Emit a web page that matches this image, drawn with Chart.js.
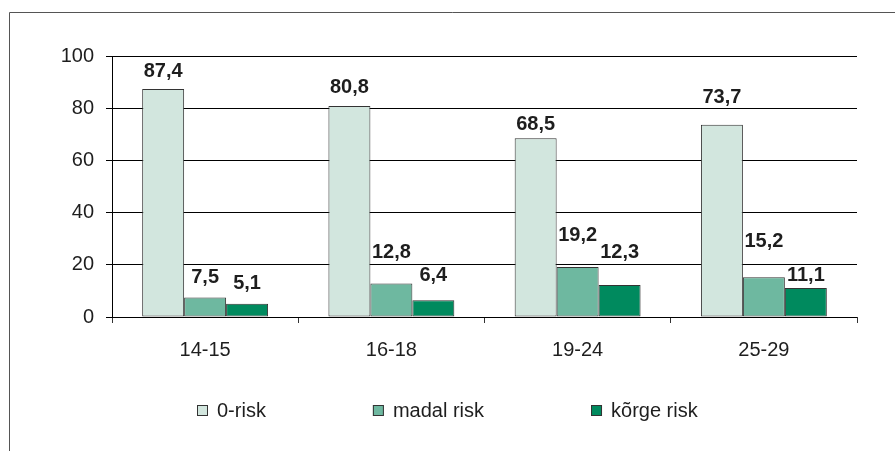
<!DOCTYPE html>
<html>
<head>
<meta charset="utf-8">
<script src="https://cdn.jsdelivr.net/npm/chart.js@4"></script>
<style>
  html, body { margin: 0; padding: 0; background: #fff; }
  #wrap { width: 895px; height: 451px; }
</style>
</head>
<body>
<div id="wrap"><canvas id="myChart" width="895" height="451"></canvas></div>
<script>
//chart data
const ageGroups = ['14-15', '16-18', '19-24', '25-29'];
const seriesNames = ['0-risk', 'madal risk', 'kõrge risk'];
const zeroRisk = [87.4, 80.8, 68.5, 73.7];
const lowRisk = [7.5, 12.8, 19.2, 15.2];
const highRisk = [5.1, 6.4, 12.3, 11.1];
const yTicks = [0, 20, 40, 60, 80, 100];

// how far each value label sits above its bar (px), as placed in the original
const labelLift = [[17, 19, 14, 27], [20, 31, 31, 36], [20, 25, 32, 13]];

const fontFamily = '"Liberation Sans", Arial, sans-serif';
const ctx = document.getElementById('myChart');

const frame = {
  id: 'frame',
  beforeDraw(chart) {
    const c = chart.ctx;
    c.save();
    c.fillStyle = '#fff';
    c.fillRect(0, 0, chart.width, chart.height);
    c.strokeStyle = '#555';
    c.lineWidth = 1;
    c.beginPath();
    c.moveTo(9.5, chart.height);
    c.lineTo(9.5, 12.5);
    c.lineTo(chart.width, 12.5);
    c.stroke();
    c.restore();
  }
};

const valueLabels = {
  id: 'valueLabels',
  afterDatasetsDraw(chart) {
    const c = chart.ctx;
    c.save();
    c.font = 'bold 20px ' + fontFamily;
    c.fillStyle = '#1e1e1e';
    c.textAlign = 'center';
    c.textBaseline = 'middle';
    chart.data.datasets.forEach((ds, d) => {
      chart.getDatasetMeta(d).data.forEach((bar, i) => {
        const text = ds.data[i].toFixed(1).replace('.', ',');
        c.fillText(text, bar.x, bar.y - labelLift[d][i]);
      });
    });
    c.restore();
  }
};

const bottomLegend = {
  id: 'bottomLegend',
  afterDraw(chart) {
    const c = chart.ctx;
    c.save();
    c.font = '20px ' + fontFamily;
    c.textBaseline = 'middle';
    const box = 11, gap = 9, spacing = 107, y = 411;
    const items = chart.data.datasets.map(ds => ({
      text: ds.label,
      color: ds.backgroundColor,
      w: box + gap + c.measureText(ds.label).width
    }));
    const total = items.reduce((s, it) => s + it.w, 0) + spacing * (items.length - 1);
    let x = Math.round((chart.width - total) / 2);
    items.forEach(it => {
      c.fillStyle = it.color;
      c.fillRect(x, y - 6, box, box);
      c.strokeStyle = '#333';
      c.lineWidth = 1;
      c.strokeRect(x + 0.5, y - 5.5, box - 1, box - 1);
      c.fillStyle = '#1e1e1e';
      c.fillText(it.text, x + box + gap, y);
      x += it.w + spacing;
    });
    c.restore();
  }
};

const riskChart = new Chart(ctx, {
  type: 'bar',
  data: {
    labels: ageGroups,
    datasets: [
      { label: seriesNames[0], data: zeroRisk, backgroundColor: '#d2e6de' },
      { label: seriesNames[1], data: lowRisk, backgroundColor: '#6eb8a0' },
      { label: seriesNames[2], data: highRisk, backgroundColor: '#008a5e' }
    ]
  },
  options: {
    responsive: false,
    animation: false,
    devicePixelRatio: 1,
    datasets: {
      bar: {
        borderColor: '#333',
        borderWidth: 1,
        borderSkipped: false,
        categoryPercentage: 0.676,
        barPercentage: 1
      }
    },
    layout: { padding: { top: 56, right: 38, bottom: 0, left: 0 } },
    plugins: {
      legend: { display: false },
      tooltip: { enabled: false }
    },
    scales: {
      x: {
        offset: true,
        grid: {
          offset: true,
          color: c => c.index === ageGroups.length ? '#333' : 'transparent',
          tickColor: '#333',
          tickLength: 6
        },
        border: { display: false },
        ticks: {
          color: '#1e1e1e',
          padding: 15,
          font: { family: fontFamily, size: 20 }
        },
        afterFit: scale => { scale.height = 134; }
      },
      y: {
        min: 0,
        max: 100,
        afterBuildTicks: scale => { scale.ticks = yTicks.map(v => ({ value: v })); },
        grid: { color: '#000', tickColor: '#000', tickLength: 6 },
        border: { color: '#000', width: 1 },
        ticks: {
          color: '#1e1e1e',
          padding: 12,
          font: { family: fontFamily, size: 20 }
        },
        afterFit: scale => { scale.width = 112; }
      }
    }
  },
  plugins: [frame, valueLabels, bottomLegend]
});
</script>
</body>
</html>
